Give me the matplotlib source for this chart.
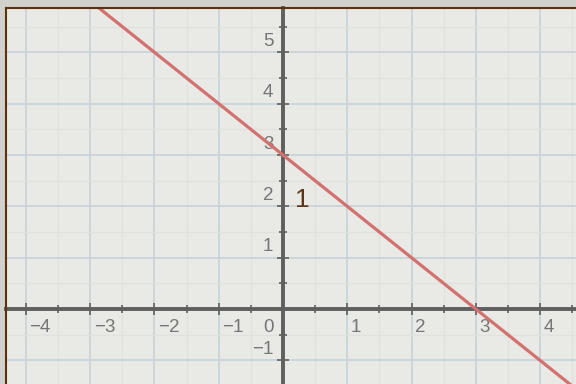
import matplotlib
matplotlib.use('Agg')
from matplotlib import pyplot as plt
from matplotlib.lines import Line2D
import numpy as np

# данные
x_ticks = [-4, -3, -2, -1, 1, 2, 3, 4]
y_ticks = [-1, 1, 2, 3, 4, 5]
line_x = [-4.4, 4.6]
line_y = [3 - v for v in line_x]   # прямая y = 3 - x
line_label = '1'

plt.rcParams['font.family'] = ['Liberation Sans', 'DejaVu Sans']

fig = plt.figure(figsize=(5.76, 3.84), dpi=100)
fig.patch.set_facecolor('#d2d1cc')
ax = fig.add_axes([6 / 576, 0, 570 / 576, 376 / 384])
ax.set_facecolor('#e9e9e5')

# сетка
ax.set_xticks(range(-4, 5))
ax.set_yticks(range(-1, 6))
ax.set_xticks(np.arange(-4.5, 5, 0.5), minor=True)
ax.set_yticks(np.arange(-1.5, 6, 0.5), minor=True)
ax.grid(True, which='minor', color='#e1e2de', linewidth=1.0)
ax.grid(True, which='major', color='#c9d3d8', linewidth=1.3)
ax.set_axisbelow(True)

ax.set_xlim(-4.311, 4.560)
ax.set_ylim(-1.461, 5.864)

# оси через ноль
for side in ['top', 'right']:
    ax.spines[side].set_visible(False)
for side in ['left', 'bottom']:
    ax.spines[side].set_position('zero')
    ax.spines[side].set_color('#5f5f5f')
    ax.spines[side].set_linewidth(2.8)
ax.tick_params(which='major', direction='inout', length=9, width=1.2,
               color='#5f5f5f', labelbottom=False, labelleft=False)
ax.tick_params(which='minor', direction='inout', length=6, width=1.2,
               color='#5f5f5f')

# подписи делений
for v in x_ticks:
    ax.annotate(f'{v}'.replace('-', '\u2212'), (v, 0), xytext=(2.5, -7),
                textcoords='offset points', ha='left', va='top',
                fontsize=13.5, color='#767676')
for v in y_ticks:
    ax.annotate(f'{v}'.replace('-', '\u2212'), (0, v), xytext=(-7, 4.5),
                textcoords='offset points', ha='right', va='baseline',
                fontsize=13.5, color='#767676')
ax.annotate('0', (0, 0), xytext=(-7, -7), textcoords='offset points',
            ha='right', va='top', fontsize=13.5, color='#767676')

# прямая
ax.plot(line_x, line_y, color='#d27270', linewidth=2.3, zorder=3)
ax.text(0.18, 1.98, line_label, fontsize=19, color='#5a3618', ha='left',
        va='baseline')

# рамка
fig.add_artist(Line2D([6 / 576, 1], [376 / 384, 376 / 384],
                      transform=fig.transFigure, color='#5a3210', linewidth=1.5))
fig.add_artist(Line2D([6 / 576, 6 / 576], [0, 376 / 384],
                      transform=fig.transFigure, color='#5a3210', linewidth=1.5))

plt.savefig('out.png', dpi=100)
